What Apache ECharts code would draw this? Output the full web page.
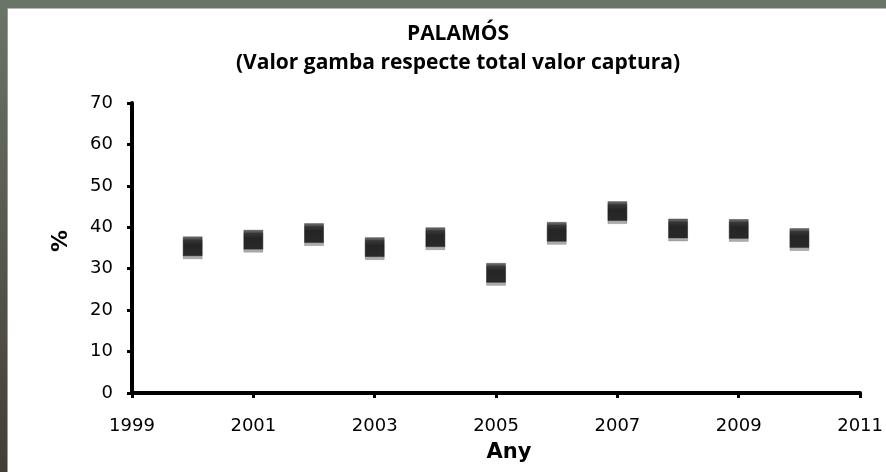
<!DOCTYPE html>
<html>
<head>
<meta charset="utf-8">
<script src="https://cdn.jsdelivr.net/npm/echarts@6/dist/echarts.min.js"></script>
<style>
html,body{margin:0;padding:0;background:#fff;}
#c{width:886px;height:472px;}
</style>
</head>
<body>
<div id="c"></div>
<script>
const titleLines = ["PALAMÓS", "(Valor gamba respecte total valor captura)"];
const years = [2000, 2001, 2002, 2003, 2004, 2005, 2006, 2007, 2008, 2009, 2010];
const values = [35.4, 37.0, 38.6, 35.2, 37.6, 29.0, 38.9, 43.9, 39.7, 39.6, 37.4];
const yTicks = [0, 10, 20, 30, 40, 50, 60, 70];
const xTicks = [1999, 2001, 2003, 2005, 2007, 2009, 2011];
const xName = "Any";
const yName = "%";

const chart = echarts.init(document.getElementById('c'), null, {renderer: 'canvas'});
chart.setOption({
  backgroundColor: '#ffffff',
  animation: false,
  graphic: [
    {type: 'rect', left: 0, top: 0, z: -10, shape: {width: 886, height: 8}, style: {fill: '#6b7469'}},
    {type: 'rect', left: 0, top: 8, z: -10, shape: {width: 886, height: 1}, style: {fill: '#b8bbb6'}},
    {type: 'rect', left: 0, top: 0, z: -9, shape: {width: 7, height: 472},
      style: {fill: new echarts.graphic.LinearGradient(0, 0, 0, 1, [
        {offset: 0, color: '#6b7469'}, {offset: 1, color: '#433d37'}])}},
    {type: 'rect', left: 7, top: 8, z: -9, shape: {width: 1, height: 464}, style: {fill: '#9a9a96'}}
  ],
  title: {
    text: titleLines[0] + '\n' + titleLines[1],
    left: 453, top: 15, textAlign: 'center',
    textStyle: {fontFamily: 'Open Sans', fontWeight: 'bold', fontSize: 21, color: '#000', lineHeight: 29}
  },
  grid: {left: 132, right: 21, top: 103, bottom: 79, containLabel: false},
  xAxis: {
    type: 'value', min: xTicks[0], max: xTicks[xTicks.length - 1], interval: 2,
    name: xName, nameLocation: 'middle', nameGap: 49,
    nameTextStyle: {fontFamily: 'DejaVu Sans', fontWeight: 'bold', fontSize: 21, color: '#000', padding: [0, 0, 0, 26]},
    axisLine: {show: true, lineStyle: {color: '#000', width: 4}},
    axisTick: {show: true, length: 5, lineStyle: {color: '#000', width: 3}},
    axisLabel: {margin: 24, fontFamily: 'DejaVu Sans', fontSize: 18, color: '#000', formatter: v => String(v)},
    splitLine: {show: false}
  },
  yAxis: {
    type: 'value', min: yTicks[0], max: yTicks[yTicks.length - 1], interval: 10,
    name: yName, nameLocation: 'middle', nameGap: 60, nameRotate: 90,
    nameTextStyle: {fontFamily: 'DejaVu Sans', fontWeight: 'bold', fontSize: 22, color: '#000', padding: [0, 0, 0, 14]},
    axisLine: {show: true, lineStyle: {color: '#000', width: 4}},
    axisTick: {show: true, length: 5, lineStyle: {color: '#000', width: 3}},
    axisLabel: {margin: 19, fontFamily: 'DejaVu Sans', fontSize: 18, color: '#000'},
    splitLine: {show: false}
  },
  series: [{
    type: 'scatter',
    symbol: 'rect',
    symbolSize: 19,
    data: years.map((y, i) => [y, values[i]]),
    itemStyle: {
      color: new echarts.graphic.LinearGradient(0, 0, 0, 1, [
        {offset: 0, color: '#4a4a4a'},
        {offset: 0.15, color: '#1e1e1e'},
        {offset: 0.4, color: '#030303'},
        {offset: 1, color: '#080808'}
      ]),
      borderColor: '#2a2a2a',
      borderWidth: 0.5,
      shadowColor: 'rgba(0,0,0,0.4)',
      shadowBlur: 0,
      shadowOffsetY: 3
    }
  }]
});
</script>
</body>
</html>
